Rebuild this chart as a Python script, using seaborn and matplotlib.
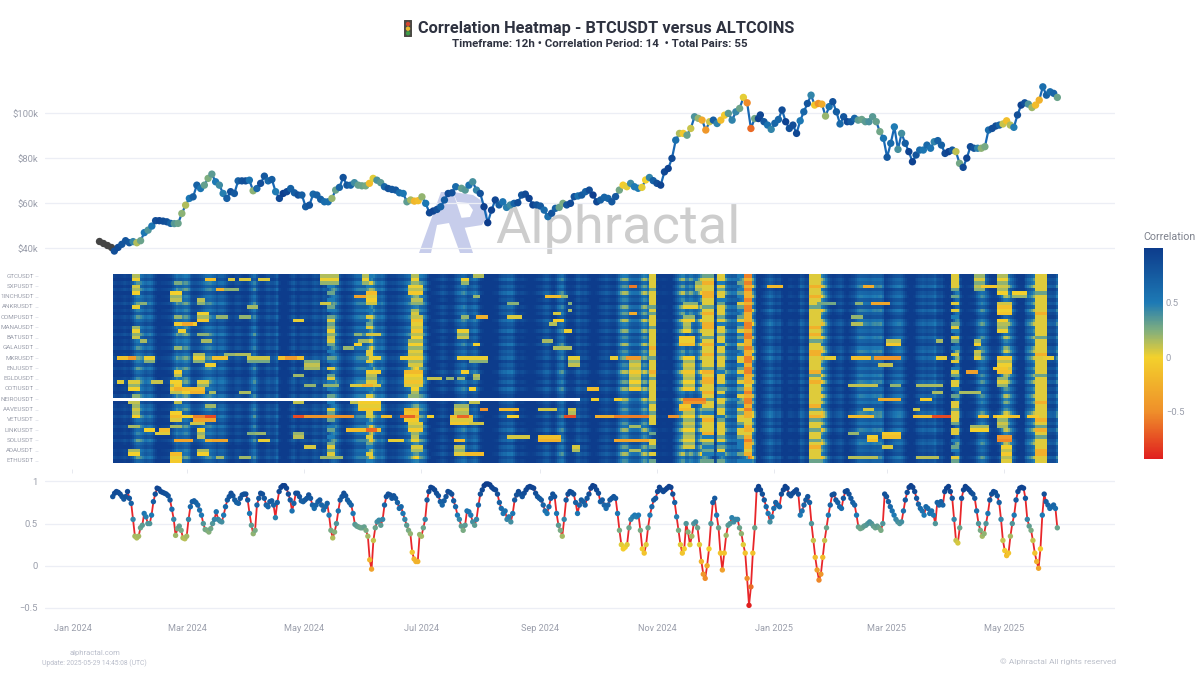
# Correlation heatmap - BTCUSDT versus altcoins
import numpy as np
import pandas as pd
import matplotlib
matplotlib.use("Agg")
import matplotlib.pyplot as plt
import matplotlib.dates as mdates
from matplotlib.colors import LinearSegmentedColormap, Normalize
from matplotlib.patches import Circle, FancyBboxPatch, Polygon
import seaborn as sns

# ── DATA ─────────────────────────────────────────────────────
# BTC price in $k, read off in three stretches of the timeline
price_early = [
    43.4, 42.2, 41.5, 40.7, 38.8, 40.4, 41.8, 43.4, 42.5, 43, 42.5, 43.4, 47, 48.1, 49.9, 52.3, 52.3, 52.1, 51.8, 51.1,
    51, 51.1, 55.5, 59.2, 62.2, 62.9, 68.1, 66.6, 68.1, 71.1, 73, 69.6, 68.1, 64.4, 62.2, 65.2, 64.4, 70, 70, 70,
    70.3, 65.6, 66.6, 68.9, 72.1, 70, 70.6, 65.2, 62.2, 64.4, 65.2, 66.6, 64.7, 63.7, 63.7, 58.5, 59.2, 64.1, 63.7, 61.8,
    60.7, 60.7, 62.2, 65.9, 67.1, 71.5, 68.1, 68.1, 69.2, 68.1, 67.8, 67.8, 68.9, 71.1, 70.3, 69.2, 67.4, 66.6, 66.2, 65.9,
    64.7, 64.4, 60.7, 61.5, 61, 61.2, 62.9, 60, 55.8, 56.6, 57.3, 58.5, 61.5, 64.4, 64.7, 67.4,
]
price_mid = [
    66.7, 65.9, 68.1, 69.6, 65.9, 64.4, 58.5, 51.4, 57, 61.5, 59.3, 60.7, 58.2, 59.3, 60, 60.3, 63.7, 64.1, 62.2, 59.3,
    59.3, 58.8, 57, 54.1, 55.6, 57.8, 58.2, 60, 59.3, 60, 63, 63.3, 63.7, 65.2, 65.9, 63.7, 60.7, 61.5, 62.7, 62.2,
    60.7, 63, 65.9, 68.1, 67.4, 68.9, 67.4, 66.7, 67.1, 70.4, 71.5, 70.1, 68.9, 68.1, 74, 75.5, 80, 88.1, 91.1, 91.1,
    90.3, 93.3, 98.5, 97.8, 97, 92.6, 96.3, 97, 95.5, 97, 99.2, 100, 97, 100.7, 102.2, 107.1, 104.7, 93.3, 97.7, 97.7,
]
price_late = [
    99.3, 96.3, 94.8, 92.9, 95.6, 97.3, 101.5, 96.3, 93.3, 94.8, 91.1, 96.7, 100.7, 104.4, 108.1, 103.7, 104.4, 104.1, 98.8, 103,
    105.2, 100.7, 95.3, 98.5, 96.3, 96.3, 97.8, 97, 97.3, 96.3, 96.3, 98.5, 96.3, 91.9, 88.9, 80.5, 86.7, 94, 84, 91.1,
    86.7, 83, 78.5, 81.5, 83.7, 83.7, 85.9, 84.5, 87.4, 87.9, 85.9, 82.2, 83, 83.7, 83, 77.8, 76, 80.1, 85.2, 84.5,
    84.5, 84.5, 85.2, 92.6, 93.3, 94.4, 94.8, 95.3, 96.7, 94.8, 93.8, 99.3, 103.7, 104.7, 104.1, 102.6, 103.7, 105.9, 111.8, 108.1,
    109.6, 108.9, 107.1,
]

# mean correlation across the pairs, roughly daily readings
corr_early = [
    .82, .86, .88, .87, .85, .82, .79, .82, .88, .80, .74, .55, .35, .33, .35, .45, .48, .62, .58, .50,
    .50, .60, .76, .85, .92, .91, .88, .87, .86, .85, .83, .78, .67, .55, .36, .44, .47, .42, .33, .32,
    .35, .55, .70, .76, .77, .75, .72, .66, .60, .50, .43, .42, .40, .44, .50, .55, .64, .55, .53, .52,
    .60, .70, .78, .82, .86, .83, .78, .75, .74, .80, .84, .85, .85, .78, .62, .48, .38, .42, .72, .80,
    .86, .85, .80, .72, .70, .76, .77, .72, .57, .75, .88, .93, .95, .95, .92, .85, .78, .65, .74, .86,
    .86, .82, .77, .76, .78, .80, .84, .80, .72, .68, .72, .76, .78, .72, .66, .70, .74, .60, .42, .33,
    .40, .50, .65, .78, .82, .86, .83, .78, .75, .72, .62, .49, .47, .46, .45, .45, .46, .42, .35, .07,
    -.04, .30, .45, .52, .54, .48, .55, .72, .82, .85, .84, .80, .83, .80, .75, .68, .70, .62, .55, .48,
    .42, .38, .16, .08, .05, .05, .37, .35, .45, .55, .78, .88,
]
corr_mid = [
    .93, .92, .90, .86, .83, .76, .72, .77, .82, .88, .87, .85, .77, .70, .60, .55, .47, .42, .48, .65,
    .64, .60, .52, .48, .55, .72, .85, .90, .95, .97, .97, .96, .93, .91, .90, .85, .75, .68, .62, .65,
    .55, .58, .52, .62, .78, .84, .88, .85, .82, .86, .90, .93, .94, .93, .92, .86, .82, .80, .78, .72,
    .65, .62, .70, .80, .85, .82, .62, .48, .42, .35, .55, .78, .85, .88, .87, .85, .75, .62, .72, .78,
    .76, .72, .80, .85, .92, .95, .94, .90, .86, .76, .78, .72, .68, .72, .78, .80, .82, .80, .62, .42,
    .25, .20, .22, .25, .45, .55, .58, .60, .58, .60, .42, .20, .15, .25, .45, .60, .70, .78, .80, .88,
    .93, .90, .88, .90, .92, .94, .93, .85, .75, .58, .42, .25, .15, .20, .50, .40, .25, .35, .50, .52,
    .45, .25, .05, -.10, -.15, .0, .20, .50, .75, .80, .60, .45, .15, -.05, .15, .36, .48, .50, .57, .52,
    .55, .55, .45, .38, .25, .15, -.15, -.47, -.25, .15, .45, .90, .94, .90, .85, .78, .70, .62, .52, .58,
    .68, .75, .72, .70, .85,
]
corr_late = [
    .90, .94, .92, .85, .83, .86, .88, .90, .85, .60, .65, .72, .78, .82, .75, .50, .30, .10, -.05, -.17,
    -.10, .10, .30, .45, .60, .72, .84, .85, .78, .75, .70, .68, .80, .88, .89, .85, .80, .75, .72, .60,
    .46, .44, .45, .47, .48, .50, .52, .50, .47, .45, .47, .45, .42, .50, .85, .82, .76, .70, .65, .60,
    .55, .52, .50, .52, .65, .78, .87, .93, .95, .93, .88, .80, .73, .68, .65, .60, .70, .68, .62, .65,
    .60, .50, .75, .72, .76, .72, .88, .92, .94, .88, .80, .55, .30, .27, .45, .80, .90, .94, .92, .90,
    .87, .85, .80, .65, .50, .42, .35, .38, .50, .62, .78, .85, .88, .87, .83, .75, .55, .30, .18, .12,
    .15, .35, .50, .60, .78, .88, .92, .93, .92, .80, .55, .47, .42, .30, .15, .05, -.03, .20, .60, .85,
    .76, .72, .68, .70, .72, .68, .45,
]

pair_labels = ["GTCUSDT", "SXPUSDT", "1INCHUSDT", "ANKRUSDT", "COMPUSDT", "MANAUSDT", "BATUSDT",
               "GALAUSDT", "MKRUSDT", "ENJUSDT", "EGLDUSDT", "COTIUSDT", "NEIROUSDT", "AAVEUSDT",
               "VETUSDT", "LINKUSDT", "SOLUSDT", "ADAUSDT", "ETHUSDT"]

# how far each of the 55 pairs sits from the mean, top row first, per part of the timeline
row_bias_early = [
    .05, .12, -.02, .10, -.04, .14, .03, .08, -.05, .11, .02, .13, -.03, .07, .15, .01, .09, -.06, .12, .04,
    .10, -.02, .14, .06, -.06, .03, .11, -.04, .08, .13, .00, -.05, .07, .02, .12, -.03, .09, .15, .04, -.02,
    .10, -.06, .06, .13, -.03, .08, .01, .12, -.05, .09, .14, .03, .07, -.04, .11,
]
row_bias_mid = [
    .08, -.03, .13, .02, .10, -.05, .12, .06, .15, -.02, .09, .01, .13, -.06, .07, .11, -.03, .14, .04, .10,
    -.05, .12, .03, .08, -.02, .15, .05, .10, -.06, .07, .12, .00, .13, -.04, .09, .14, -.06, .05, .11, .02,
    .08, -.05, .13, .03, .10, -.04, .12, .06, -.02, .14, .01, .09, -.05, .11, .04,
]
row_bias_late = [
    .12, .03, .08, -.05, .14, .06, -.02, .11, .01, .13, -.04, .09, .15, .02, -.06, .10, .05, .12, -.03, .08,
    .14, .00, -.05, .10, -.06, .07, .13, .03, .11, -.02, .09, -.04, .14, .05, .12, -.03, .08, .01, .13, .06,
    -.05, -.06, .10, .02, .12, -.04, .09, .14, .03, -.03, .11, .07, .13, -.05, .08,
]

# stretches that leave the mean: first row, last row, first 2-day slot, last slot, value
heat_spots = [
    (0,1,5,6,.05),(0,2,54,58,.05),(0,2,65,66,.05),(1,1,24,26,-.1),(1,1,30,31,.1),(1,1,33,35,.1),(1,1,38,40,.1),
    (2,2,16,17,.1),(3,5,5,6,.05),(4,4,27,29,-.35),(4,4,29,32,.1),(4,4,67,67,.05),(5,7,15,17,.05),(6,6,63,65,-.5),
    (5,8,66,68,-.1),(7,8,22,23,.05),(8,8,7,8,.05),(8,8,54,56,-.1),(9,9,5,6,.05),(9,9,35,37,.2),(11,13,22,24,.0),
    (12,12,16,17,.05),(12,12,27,29,.05),(12,12,33,35,.05),(13,13,47,49,.1),(14,14,16,21,-.15),(14,14,18,20,-.4),
    (16,16,17,18,.05),(17,17,22,24,.05),(15,18,5,6,.05),(15,18,56,57,.05),(17,17,63,64,.05),(17,17,66,69,-.1),
    (19,19,23,25,.05),(19,19,64,66,.05),(19,19,7,8,.05),(21,21,16,17,.05),(21,21,60,62,.05),(20,20,63,64,.05),
    (23,25,21,23,.05),(23,23,29,31,.1),(23,23,32,35,.05),(24,24,1,5,-.1),(24,24,4,5,-.4),(24,25,8,10,.05),
    (24,24,26,29,-.1),(24,25,35,40,.1),(24,24,43,49,-.1),(24,24,45,47,-.4),(24,24,67,69,.05),(26,26,24,26,-.05),
    (25,27,50,53,.05),(28,29,16,17,.05),(28,28,67,69,.05),(29,29,47,49,.1),(28,31,66,68,.05),(31,31,1,2,.05),
    (31,33,4,6,.05),(31,31,10,12,.1),(31,34,15,17,.0),(32,33,16,17,-.2),(31,32,22,24,.05),(33,33,21,23,.05),
    (32,32,50,52,.05),(32,32,55,58,.05),(32,32,62,69,-.1),(32,32,65,67,-.4),(33,34,18,23,-.1),(34,34,20,23,-.35),
    (34,34,25,26,.05),(34,34,33,35,.05),(36,36,50,52,-.3),(35,35,5,6,.05),(37,37,4,6,.05),(37,37,16,17,.05),
    (37,37,47,49,.05),(37,37,62,64,.05),(38,38,24,26,.05),(37,39,64,69,-.1),(38,41,5,6,.05),(40,42,15,17,-.1),
    (41,41,18,20,.05),(41,42,21,26,-.5),(41,41,24,26,-.7),(41,41,47,62,-.4),(41,41,47,49,-.7),(41,41,70,72,-.1),
    (43,43,20,23,.05),(44,44,4,6,.05),(44,44,15,17,.05),(45,45,8,10,.05),(45,45,12,14,-.1),(45,47,22,23,.05),
    (45,45,61,69,-.1),(45,45,66,68,-.6),(46,46,11,14,-.1),(46,46,35,37,.1),(46,46,37,39,.05),(46,46,47,49,.05),
    (48,48,16,20,-.3),(48,48,24,26,-.2),(48,48,26,29,-.3),(48,48,38,40,.05),(47,47,47,49,.05),(48,48,72,75,.05),
    (50,50,50,52,.05),(51,52,4,6,.05),(51,52,22,24,.05),(52,54,15,17,-.1),(53,53,54,59,.05),(53,53,27,28,.05),
    (53,53,33,35,.05),
    (0,2,78,79,.05),(3,5,77,80,.0),(7,8,78,80,.05),(10,11,78,79,.05),(12,18,78,80,-.05),(19,21,77,80,.05),
    (22,26,77,80,.0),(28,32,76,80,-.1),(33,34,78,79,.05),(35,36,77,79,.05),(39,42,76,79,-.2),(41,41,75,78,-.6),
    (43,45,77,80,.0),(46,48,78,79,.05),(50,51,78,80,.05),(30,30,82,85,-.05),(30,30,87,88,.05),(30,30,90,91,.05),
    (1,2,91,92,.05),(0,0,94,96,.05),(6,6,94,95,.05),(8,8,103,105,.05),(12,12,91,92,.05),(12,12,95,97,-.4),
    (12,12,103,106,-.1),(16,18,90,92,.05),(20,20,94,95,.05),(24,24,75,76,.0),(24,24,90,92,.05),(24,25,93,97,.05),
    (24,26,119,121,.05),(24,24,130,131,.05),(24,24,134,137,-.4),(25,33,135,137,.0),(6,6,113,116,-.3),
    (6,6,117,118,.05),(8,8,119,119,.05),(10,10,119,119,.05),(11,11,115,116,.05),(11,11,135,136,-.3),
    (13,13,115,117,.05),(14,14,114,115,.05),(16,16,118,119,.05),(19,19,112,114,.05),(21,21,115,119,.0),
    (28,28,91,92,.05),(29,30,94,95,.05),(33,33,93,94,.05),(33,33,124,126,-.1),(36,36,125,126,.05),
    (36,36,131,132,.05),(37,37,93,95,.05),(38,40,89,92,.05),(39,39,96,97,-.5),(39,39,101,105,-.2),
    (39,39,111,115,.05),(39,41,119,120,.05),(41,41,82,83,.05),(41,43,88,93,-.1),(41,41,90,92,-.6),
    (41,41,103,105,.05),(41,41,118,120,-.7),(41,41,126,139,-.2),(41,41,131,139,-.5),(41,41,145,147,-.4),
    (43,43,93,96,.05),(44,44,135,137,.05),(47,47,103,108,.0),(47,48,111,116,-.2),(48,48,89,91,-.1),
    (48,48,131,139,-.3),(50,52,89,91,.1),(50,51,120,121,.05),(51,51,135,137,.05),(52,52,92,96,-.1),
    (3,3,135,136,-.6),(8,9,149,152,.05),(12,13,149,151,.05),(14,16,149,150,.05),
    (18,20,148,151,-.1),(24,33,149,151,.0),(39,50,149,151,.05),(2,4,152,153,.05),
    (36,37,149,154,-.5),(38,39,148,150,-.2),(3,3,171,174,-.2),
    (8,8,184,188,.1),(3,3,196,198,-.3),(8,8,194,195,.05),(8,8,198,202,-.5),(12,12,193,195,.05),
    (14,14,193,195,.05),(19,20,202,205,.0),(19,19,215,216,.05),(24,24,186,188,.05),
    (24,24,193,197,-.1),(24,24,199,205,-.4),(24,24,215,217,.05),(24,24,243,245,.05),(26,26,200,203,.05),
    (32,32,192,199,-.05),(32,32,203,205,.05),(32,32,210,216,.0),(34,34,214,216,.05),(36,36,200,205,-.2),
    (36,36,211,213,.05),(39,39,196,198,.05),(39,39,209,210,.05),(41,41,192,198,-.1),(41,41,209,213,-.1),
    (41,41,214,218,-.7),(41,41,226,228,-.05),(41,41,230,236,-.05),(41,41,239,241,.0),(44,45,224,228,.05),
    (46,47,201,205,-.2),(46,46,192,194,.05),(47,48,197,199,-.1),(47,48,231,234,-.5),(50,50,201,203,.05),
    (53,53,192,199,.0),(53,53,210,215,.0),(0,5,231,233,.05),(8,11,231,234,-.1),(13,16,231,233,.05),
    (24,28,231,234,-.05),(30,32,231,233,.05),(41,44,231,233,.05),(50,54,232,234,.0),
    (0,4,225,227,.1),(3,3,227,230,-.1),(5,6,235,238,.05),(27,27,230,233,-.2),(28,28,223,225,-.3),
    (34,34,221,226,.05),(22,24,225,226,.05),(19,20,225,226,.05),
]

# full-height bands, one letter per row top to bottom ("." keeps the background)
band_codes = {"y": .05, "o": -.25, "r": -.55, "g": .3, "t": .5, "b": .75}
band_rows = [
    (56, 57, "yg.t. g.t.g t.gyg t.t.y g.t.g t.y.g ytgt. g.t.y g.g.t g.t.g ygyg."),
    (66, 67, "t.yt. y.oy. t.y.g y.t.y ..yy. y.t.g y.yt. y.g.t yy.t. o.y.g t.y.t"),
    (140, 141, "yyyyg yyyyg ygyyy gyyyy yoyyg yyyoy gyyyy yygyy gyyy. .g.yy g.y.g"),
    (154, 156, "gyoyy ooyyg yoyyo oyygy oyyoy yygoy ooyyo ygyyg tyoyy yotyg tgt.g"),
    (158, 159, "yytyg yytgy yygyt yygyy tyygy yygty yytgy tyygy ytgyy yygyt gyt.g"),
    (163, 164, "t.g.t gt.yg t.gyt gytgt yg.ty ytgyt gytgt y.gty gyygt yygtt t.g.t"),
    (165, 166, "roror ooror rooor rorro oroor rorro ooyor orror ooyyo oyoro oyo.t"),
    (182, 184, "yyyoy yoyyg yyyyy oyoyg yyooy yyyog yoyyy yyyog yogyy gyygy oyyyg"),
    (219, 220, "yyyyg .g.y. y.t.g yt.yg .t.y. y.tyg .yyt. g.yyg yyyg. yy.t. gt.yg"),
    (241, 243, "yyyyy gyyyy yoyyy yyygy yyyoy yyyyg yyyyy yyoyy yyoyg oygyy yooyy"),
]

NEIRO_ROW = 36
NEIRO_FIRST_SLOT = 122  # no data for NEIRO before this slot

month_ticks = ["2024-01-01", "2024-03-01", "2024-05-01", "2024-07-01", "2024-09-01",
               "2024-11-01", "2025-01-01", "2025-03-01", "2025-05-01"]
price_ticks = [40, 60, 80, 100]
corr_ticks = [-0.5, 0, 0.5, 1]

# ── STYLE ────────────────────────────────────────────────────
sns.set_theme(style="white")
plt.rcParams["font.family"] = ["Roboto", "DejaVu Sans"]

W, H = 1200, 675
GREY = "#9a9eab"
GRID = "#eceef5"
cmap = LinearSegmentedColormap.from_list("corr", [
    (0, "#e01f1f"), (.223, "#ef8f2a"), (.482, "#f3d12c"), (.611, "#7fae7f"),
    (.741, "#1d7ab5"), (1, "#0d3c8c")])
line_norm = Normalize(-0.47, 0.97)


def place(x0, y0, x1, y1):
    return [x0 / W, 1 - y1 / H, (x1 - x0) / W, (y1 - y0) / H]


def stretch(values, start, end):
    return pd.DataFrame({"date": pd.date_range(start, end, periods=len(values)), "value": values})


# ── TABLES ───────────────────────────────────────────────────
corr_df = pd.concat([stretch(corr_early, "2024-01-22", "2024-07-05"),
                     stretch(corr_mid, "2024-07-06", "2025-01-05"),
                     stretch(corr_late, "2025-01-06", "2025-05-29")], ignore_index=True)
price_df = pd.concat([stretch(price_early, "2024-01-15", "2024-07-19"),
                      stretch(price_mid, "2024-07-22", "2024-12-24"),
                      stretch(price_late, "2024-12-25", "2025-05-29")], ignore_index=True)
# marker colour on the price line follows the correlation of that day
price_df["corr"] = np.interp(price_df["date"].astype("int64"), corr_df["date"].astype("int64"), corr_df["value"])
warmup = price_df[price_df["date"] < corr_df["date"][0]]
priced = price_df[price_df["date"] >= corr_df["date"][0]]

heat_dates = pd.date_range("2024-01-22", "2025-05-29", freq="D")
heat_mean = np.interp(heat_dates.astype("int64"), corr_df["date"].astype("int64"), corr_df["value"])
scale = len(heat_dates) / 247
cut1, cut2 = int(83 * scale), int(166 * scale)
row_bias = np.array([row_bias_early, row_bias_mid, row_bias_late])
slots = np.arange(len(heat_dates))
part = np.where(slots < cut1, 0, np.where(slots < cut2, 1, 2))
# calm days stay navy, the pairs only spread apart when the mean drops
heat = heat_mean + 0.07 + row_bias[part].T * (0.35 + 3 * (1 - heat_mean))
heat = np.clip(heat, -0.93, 1)
for c0, c1, letters in band_rows:
    letters = letters.replace(" ", "")
    for r, letter in enumerate(letters):
        if letter in band_codes:
            heat[r, int(c0 * scale):int((c1 + 1) * scale)] = band_codes[letter]
for r0, r1, c0, c1, val in heat_spots:
    for r in range(r0, r1 + 1):
        heat[r, int(c0 * scale):int((c1 + 1) * scale)] = val + row_bias[1, r] * 1.2
heat[NEIRO_ROW, :int(NEIRO_FIRST_SLOT * scale)] = np.nan
row_names = [pair_labels[i // 3] if i % 3 == 0 else f"pair {i}" for i in range(55)]
heat_df = pd.DataFrame(heat, index=row_names, columns=heat_dates)

# ── FIGURE ───────────────────────────────────────────────────
fig = plt.figure(figsize=(12, 6.75), dpi=100, facecolor="white")

# watermark and the traffic light sit behind everything
bg = fig.add_axes([0, 0, 1, 1], zorder=-1)
bg.set_xlim(0, W); bg.set_ylim(H, 0); bg.axis("off")
logo = "#c7cdeb"
bg.add_patch(Polygon([(419, 253), (441, 192), (453, 192), (473, 253), (460, 253), (449, 223),
                      (437, 225), (431, 253)], color=logo, lw=0))
bg.add_patch(Polygon([(453, 192), (473, 195), (485, 203), (488, 215), (482, 225), (463, 228),
                      (460, 218), (470, 217), (473, 210), (468, 203), (457, 202)], color=logo, lw=0))
bg.text(495, 243, "Alphractal", fontsize=39, color="#cdcdcd", va="baseline")
bg.add_patch(FancyBboxPatch((404.5, 20.5), 7, 16, boxstyle="round,pad=0.5", color="#4b4a45", lw=0))
for cy, col in [(24, "#d2452f"), (28.7, "#e9bb2f"), (33.2, "#3f9a48")]:
    bg.add_patch(Circle((408, cy), 2.2, color=col, lw=0))

# ── BTC price ────────────────────────────────────────────────
ax_top = fig.add_axes(place(45, 80, 1115, 265), facecolor="none")
sns.lineplot(data=price_df, x="date", y="value", color="#1868b4", lw=1.6, ax=ax_top, estimator=None, sort=False)
sns.lineplot(data=warmup, x="date", y="value", color="#444444", lw=1.6, ax=ax_top, estimator=None, sort=False)
sns.scatterplot(data=warmup, x="date", y="value", color="#444444", s=28, linewidth=0, ax=ax_top, zorder=3)
sns.scatterplot(data=priced, x="date", y="value", hue="corr", palette=cmap, hue_norm=line_norm,
                s=28, linewidth=0, legend=False, ax=ax_top, zorder=3)
ax_top.set_ylim(32.6, 114.84)
ax_top.set_yticks(price_ticks)
ax_top.set_yticklabels([f"${p}k" for p in price_ticks])
ax_top.set_xticks([])

# ── heatmap ──────────────────────────────────────────────────
ax_heat = fig.add_axes(place(38, 274.3, 1058, 462.6), facecolor="none")
cax = fig.add_axes(place(1143.5, 248, 1163, 459))
sns.heatmap(heat_df, ax=ax_heat, cmap=cmap, vmin=-0.93, vmax=1, cbar_ax=cax,
            xticklabels=False, yticklabels=3, rasterized=True)
n_cols = heat_df.shape[1]
ax_heat.set_xlim(-n_cols * 75 / 945, n_cols)
ax_heat.set_xlabel(""); ax_heat.set_ylabel("")
ax_heat.tick_params(axis="y", left=True, length=2, width=0.6, color="#e3e5ec", labelsize=4.5,
                    labelcolor=GREY, pad=1, rotation=0)

cax.set_yticks([-0.5, 0, 0.5])
cax.set_yticklabels(["\u22120.5", "0", "0.5"], fontsize=6.8, color=GREY)
cax.tick_params(axis="y", length=0, pad=2)
fig.text(1143 / W, 1 - 237 / H, "Correlation", fontsize=7.7, color="#7d818c", va="center")

# ── mean correlation ─────────────────────────────────────────
ax_bot = fig.add_axes(place(45, 473, 1115, 618), facecolor="none")
sns.lineplot(data=corr_df, x="date", y="value", color="#e8262a", lw=1.3, ax=ax_bot,
             estimator=None, sort=False)
sns.scatterplot(data=corr_df, x="date", y="value", hue="value", palette=cmap, hue_norm=line_norm,
                s=15, linewidth=0, legend=False, ax=ax_bot, zorder=3)
ax_bot.set_ylim(-0.62, 1.10)
ax_bot.set_yticks(corr_ticks)
ax_bot.set_yticklabels(["\u22120.5", "0", "0.5", "1"])
ticks = pd.to_datetime(month_ticks)
ax_bot.set_xticks(ticks)
ax_bot.set_xticklabels([t.strftime("%b %Y") for t in ticks])
ax_bot.tick_params(axis="x", top=True, bottom=False, labelbottom=True, labeltop=False,
                   length=3, width=0.6, color="#e3e5ec", pad=1.5)

x_left = mdates.date2num(pd.Timestamp("2024-01-01")) - 14.35
x_right = mdates.date2num(pd.Timestamp("2024-01-01")) + 544.1
for ax in (ax_top, ax_bot):
    ax.set_xlim(x_left, x_right)
    ax.set_xlabel(""); ax.set_ylabel("")
    ax.grid(axis="y", color=GRID, lw=0.9)
    ax.set_axisbelow(True)
    ax.tick_params(axis="y", left=False, length=0, pad=5, labelsize=6.8, labelcolor=GREY)
    ax.tick_params(axis="x", labelsize=6.6, labelcolor=GREY)
    for side in ax.spines.values():
        side.set_visible(False)

# ── text ─────────────────────────────────────────────────────
fig.text(418 / W, 1 - 29 / H, "Correlation Heatmap - BTCUSDT versus ALTCOINS", fontsize=11.8,
         fontweight="bold", color="#2e3240", va="center")
fig.text(600 / W, 1 - 44 / H, "Timeframe: 12h \u2022 Correlation Period: 14  \u2022 Total Pairs: 55",
         fontsize=8.25, fontweight="bold", color="#2e3240", ha="center", va="center")
fig.text(95.5 / W, 1 - 653 / H, "alphractal.com", fontsize=5.5, color="#b9bdca", ha="center", va="center")
fig.text(94.5 / W, 1 - 663 / H, "Update: 2025-05-29 14:45:08 (UTC)", fontsize=4.9, color="#b9bdca",
         ha="center", va="center")
fig.text(1116 / W, 1 - 662 / H, "\u00a9 Alphractal All rights reserved", fontsize=6, color="#bcc0ca",
         ha="right", va="center")

fig.savefig("out.png", dpi=100, facecolor="white")
